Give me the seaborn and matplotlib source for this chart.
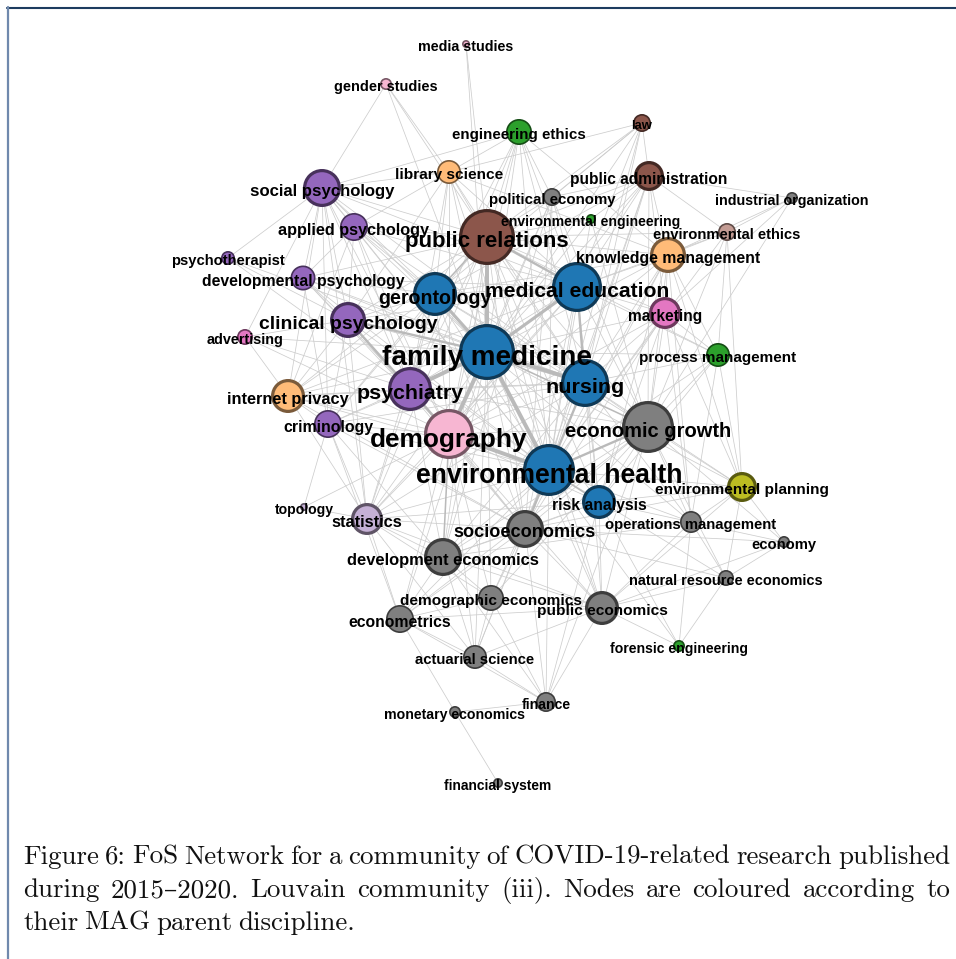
import numpy as np
import pandas as pd
import matplotlib
matplotlib.use("Agg")
import matplotlib.pyplot as plt
import seaborn as sns
from matplotlib.collections import LineCollection
from matplotlib.colors import to_rgb

sns.set_theme(style="white")

# === Nodes (layout position in px, radius, MAG parent field) ===
names = ["media studies", "gender studies", "engineering ethics", "law", "library science",
         "public administration", "political economy", "industrial organization", "social psychology",
         "environmental engineering", "environmental ethics", "applied psychology", "public relations",
         "psychotherapist", "knowledge management", "developmental psychology", "medical education",
         "gerontology", "clinical psychology", "marketing", "advertising", "family medicine",
         "process management", "psychiatry", "nursing", "internet privacy", "criminology", "demography",
         "economic growth", "environmental health", "environmental planning", "risk analysis", "topology",
         "statistics", "socioeconomics", "operations management", "economy", "development economics",
         "natural resource economics", "demographic economics", "public economics", "econometrics",
         "forensic engineering", "actuarial science", "finance", "monetary economics", "financial system"]
node_x = [466, 386, 519, 642, 449, 649, 552, 792, 322, 591, 727, 354, 487, 228, 668, 303, 577, 435,
          348, 665, 245, 487, 718, 410, 585, 288, 328, 449, 648, 549, 742, 599, 304, 367, 525, 691,
          784, 443, 726, 491, 602, 400, 679, 475, 546, 455, 498]
node_y = [44, 84, 132, 123, 172, 176, 197, 198, 188, 219, 232, 227, 237, 258, 255, 278, 287, 294,
          320, 313, 337, 352, 355, 389, 383, 396, 424, 434, 427, 470, 487, 502, 507, 519, 529, 522,
          542, 557, 578, 598, 608, 619, 646, 657, 702, 712, 783]
node_r = [4, 6, 13, 9, 12, 15, 9, 6, 19, 5, 9, 14, 28, 7, 18, 12.5, 25, 22, 18, 16, 8, 28, 12, 22,
          24, 17, 14, 25, 26, 26, 15, 17, 4, 16, 19, 11, 6, 19, 8, 13, 17, 14, 6, 12, 10, 6, 5]
fields = ["sociology", "sociology", "engineering", "political science", "computer science",
          "political science", "economics", "economics", "psychology", "engineering", "philosophy",
          "psychology", "political science", "psychology", "computer science", "psychology", "medicine",
          "medicine", "psychology", "business", "business", "medicine", "engineering", "psychology",
          "medicine", "computer science", "psychology", "sociology", "economics", "medicine",
          "geography", "medicine", "mathematics", "mathematics", "economics", "economics", "economics",
          "economics", "economics", "economics", "economics", "economics", "engineering", "economics",
          "economics", "economics", "economics"]
# label size in px
label_px = [14.2, 14.5, 15.1, 13, 15.4, 15.5, 15.0, 14.2, 16.7, 14.0, 14.7, 16.2, 22.3, 14.8, 15.9,
            15.8, 21.1, 19.7, 19.4, 15.5, 14.4, 27.9, 15.3, 21.4, 21.5, 16.4, 15.9, 26.2, 20.2, 26.5,
            15.4, 15.8, 14.0, 16.4, 18.1, 14.9, 14.8, 16.5, 14.5, 15.4, 15.4, 15.7, 14.0, 14.9, 14.0,
            14.1, 13.8]

palette = {"medicine": "#1f77b4", "psychology": "#9467bd", "sociology": "#f7b6d2",
           "political science": "#8c564b", "economics": "#7f7f7f", "computer science": "#ffbb78",
           "engineering": "#2ca02c", "business": "#e377c2", "geography": "#bcbd22",
           "mathematics": "#c5b0d5", "philosophy": "#c49c94"}

# === Edges ===
links = {
    "media studies": ["public relations", "family medicine"],
    "gender studies": ["social psychology", "public relations", "library science", "family medicine"],
    "engineering ethics": ["public relations", "family medicine", "medical education", "library science",
                           "social psychology", "knowledge management", "environmental health", "gerontology",
                           "nursing", "demography", "psychiatry", "political economy"],
    "law": ["public relations", "public administration", "family medicine", "medical education",
            "environmental health", "nursing", "gerontology", "political economy", "library science"],
    "library science": ["public relations", "social psychology", "family medicine", "medical education",
                        "gerontology", "nursing", "demography", "environmental health", "clinical psychology",
                        "knowledge management", "applied psychology", "psychiatry"],
    "public administration": ["public relations", "family medicine", "medical education", "environmental health",
                              "nursing", "economic growth", "knowledge management", "marketing",
                              "political economy", "demography", "gerontology", "environmental ethics",
                              "environmental engineering", "socioeconomics"],
    "political economy": ["public relations", "family medicine", "economic growth", "environmental health",
                          "demography", "socioeconomics", "development economics", "medical education"],
    "industrial organization": ["environmental ethics", "knowledge management", "economic growth",
                                "public administration", "marketing"],
    "social psychology": ["public relations", "family medicine", "psychiatry", "clinical psychology",
                          "applied psychology", "developmental psychology", "gerontology", "demography",
                          "psychotherapist", "internet privacy", "medical education", "nursing", "criminology",
                          "environmental health", "advertising", "statistics"],
    "environmental engineering": ["public relations", "environmental health", "family medicine",
                                  "economic growth", "public administration"],
    "environmental ethics": ["knowledge management", "public administration", "environmental planning",
                             "economic growth", "environmental health", "public relations", "process management",
                             "medical education"],
    "applied psychology": ["public relations", "family medicine", "psychiatry", "clinical psychology",
                           "gerontology", "demography", "medical education", "developmental psychology",
                           "nursing", "internet privacy", "environmental health"],
    "public relations": ["gerontology", "nursing", "demography", "psychiatry", "environmental health",
                         "economic growth", "clinical psychology", "knowledge management", "marketing",
                         "socioeconomics", "internet privacy", "developmental psychology", "criminology",
                         "statistics", "risk analysis", "process management", "development economics",
                         "public economics"],
    "psychotherapist": ["clinical psychology", "psychiatry", "family medicine"],
    "knowledge management": ["medical education", "family medicine", "nursing", "economic growth", "marketing",
                             "process management", "environmental health", "risk analysis",
                             "operations management", "environmental planning", "gerontology", "demography",
                             "socioeconomics"],
    "developmental psychology": ["clinical psychology", "psychiatry", "family medicine", "gerontology",
                                 "demography", "medical education", "nursing", "criminology",
                                 "environmental health"],
    "medical education": ["gerontology", "demography", "environmental health", "psychiatry", "economic growth",
                          "marketing", "clinical psychology", "risk analysis", "socioeconomics",
                          "process management", "statistics", "internet privacy"],
    "gerontology": ["nursing", "demography", "psychiatry", "environmental health", "clinical psychology",
                    "economic growth", "socioeconomics", "statistics", "internet privacy", "criminology"],
    "clinical psychology": ["demography", "gerontology", "nursing", "environmental health", "internet privacy",
                            "criminology", "advertising", "statistics", "socioeconomics"],
    "marketing": ["family medicine", "nursing", "economic growth", "environmental health", "process management",
                  "risk analysis", "operations management", "socioeconomics", "demography",
                  "environmental planning"],
    "advertising": ["psychiatry", "internet privacy", "family medicine", "demography"],
    "family medicine": ["socioeconomics", "internet privacy", "criminology", "statistics", "development economics",
                        "risk analysis", "public economics", "process management", "environmental planning",
                        "operations management", "demographic economics", "actuarial science", "econometrics"],
    "process management": ["nursing", "economic growth", "environmental health", "risk analysis",
                           "operations management", "environmental planning", "public relations"],
    "psychiatry": ["nursing", "environmental health", "internet privacy", "criminology", "statistics",
                   "economic growth", "socioeconomics", "development economics"],
    "nursing": ["demography", "economic growth", "risk analysis", "socioeconomics", "public economics",
                "operations management", "environmental planning", "statistics", "development economics"],
    "internet privacy": ["demography", "environmental health", "criminology", "statistics", "nursing",
                         "socioeconomics"],
    "criminology": ["demography", "environmental health", "statistics", "topology", "socioeconomics",
                    "development economics", "econometrics", "nursing"],
    "demography": ["economic growth", "socioeconomics", "statistics", "demographic economics", "econometrics",
                   "public economics", "actuarial science", "risk analysis", "topology", "nursing"],
    "economic growth": ["socioeconomics", "development economics", "public economics", "risk analysis",
                        "environmental planning", "operations management", "economy",
                        "natural resource economics", "demographic economics", "finance", "econometrics"],
    "environmental health": ["development economics", "public economics", "environmental planning",
                             "operations management", "statistics", "demographic economics",
                             "natural resource economics", "econometrics", "actuarial science",
                             "forensic engineering", "finance"],
    "environmental planning": ["economy", "operations management", "natural resource economics",
                               "risk analysis", "socioeconomics", "public economics"],
    "risk analysis": ["socioeconomics", "operations management", "public economics", "development economics",
                      "forensic engineering", "statistics", "finance"],
    "topology": ["statistics"],
    "statistics": ["socioeconomics", "development economics", "econometrics", "demographic economics",
                   "actuarial science", "public economics"],
    "socioeconomics": ["development economics", "public economics", "demographic economics", "econometrics",
                       "operations management", "actuarial science", "finance", "natural resource economics",
                       "economy"],
    "operations management": ["economy", "natural resource economics", "public economics",
                              "forensic engineering", "development economics"],
    "economy": ["natural resource economics", "public economics"],
    "development economics": ["demographic economics", "econometrics", "public economics",
                              "actuarial science", "finance"],
    "natural resource economics": ["public economics", "forensic engineering"],
    "demographic economics": ["econometrics", "public economics", "actuarial science", "finance"],
    "public economics": ["econometrics", "actuarial science", "finance", "forensic engineering"],
    "econometrics": ["actuarial science", "monetary economics", "finance"],
    "actuarial science": ["finance"],
    "finance": ["monetary economics"],
    "monetary economics": ["financial system"],
}
heavy = [("family medicine", "demography", 3), ("family medicine", "psychiatry", 3),
         ("family medicine", "public relations", 3), ("family medicine", "gerontology", 2.5),
         ("family medicine", "nursing", 3), ("family medicine", "environmental health", 3),
         ("family medicine", "medical education", 2.5), ("demography", "environmental health", 3),
         ("psychiatry", "clinical psychology", 2), ("public relations", "medical education", 2),
         ("environmental health", "economic growth", 2), ("environmental health", "socioeconomics", 2),
         ("demography", "psychiatry", 2), ("family medicine", "economic growth", 1.5),
         ("nursing", "environmental health", 2), ("gerontology", "public relations", 1.5),
         ("family medicine", "clinical psychology", 2), ("demography", "development economics", 1.5),
         ("medical education", "nursing", 2), ("environmental health", "risk analysis", 1.5)]

nodes = pd.DataFrame({"name": names, "x": node_x, "y": node_y, "r": node_r, "field": fields})
pos = {n: (x, y) for n, x, y in zip(names, node_x, node_y)}

weights = {}
for a, nbrs in links.items():
    for b in nbrs:
        weights[frozenset((a, b))] = 1
for a, b, w in heavy:
    weights[frozenset((a, b))] = w

# === Figure ===
fig = plt.figure(figsize=(9.56, 9.59), dpi=100)
ax = fig.add_axes([0, 0, 1, 1])

edges = sorted(weights.items(), key=lambda kv: kv[1])
segs = [[pos[tuple(k)[0]], pos[tuple(k)[1]]] for k, w in edges]
lws = [0.55 + (w - 1) * 1.15 for k, w in edges]
cols = ["#cdcdcd" if w == 1 else "#bababa" for k, w in edges]
ax.add_collection(LineCollection(segs, colors=cols, linewidths=lws, zorder=1))

node_lw = np.where(nodes["r"] >= 15, 2.3, 1.2)
lw_of_r = dict(zip(nodes["r"], node_lw))
areas = {r: (1.44 * r - lw_of_r[r]) ** 2 for r in nodes["r"].unique()}
sns.scatterplot(data=nodes, x="x", y="y", hue="field", palette=palette, size="r", sizes=areas,
                legend=False, ax=ax, zorder=3, linewidth=1)
pts = ax.collections[-1]
pts.set_edgecolor([tuple(c * 0.48 for c in to_rgb(palette[f])) for f in nodes["field"]])
pts.set_linewidth(node_lw)
ax.set_xlim(0, 956)
ax.set_ylim(959, 0)
ax.axis("off")

for n, x, y, px in zip(names, node_x, node_y, label_px):
    ax.text(x, y + 0.21 * px, n, ha="center", va="center", fontsize=px * 0.72, fontweight="bold",
            family=["Liberation Sans", "DejaVu Sans"], color="black", zorder=4)

# === Frame ===
ax.plot([7, 956], [7.5, 7.5], color="#1d3c5f", lw=1.5, clip_on=False, zorder=5)
ax.plot([8, 8], [7, 959], color="#7089ad", lw=1.6, clip_on=False, zorder=5)

# === Caption (justified) ===
caption = ["Figure 6: FoS Network for a community of COVID-19-related research published",
           "during 2015\u20132020. Louvain community (iii). Nodes are coloured according to",
           "their MAG parent discipline."]
cap_pt = 19.4
x0, x1 = 23, 950
renderer = fig.canvas.get_renderer()
first_gap = None
for i, line in enumerate(caption):
    y = 864 + i * 33
    arts = [ax.text(0, y, w, ha="left", va="baseline", fontsize=cap_pt,
                    family=["cmr10", "DejaVu Serif"], color="#111111") for w in line.split()]
    widths = [a.get_window_extent(renderer).width for a in arts]
    if i < len(caption) - 1:
        gap = (x1 - x0 - sum(widths)) / (len(arts) - 1)
        if first_gap is None:
            first_gap = gap
    else:
        gap = first_gap
    x = x0
    for a, w in zip(arts, widths):
        a.set_x(x)
        x += w + gap

fig.savefig("out.png", dpi=100)
